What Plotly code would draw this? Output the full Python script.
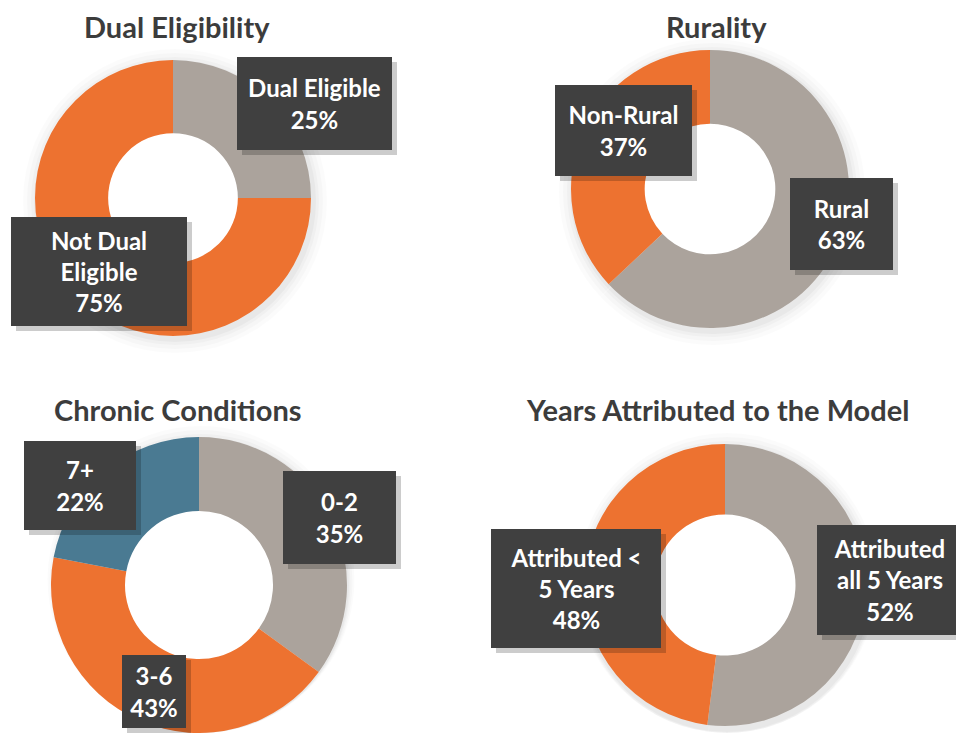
import plotly.graph_objects as go

# The page body has an 8px margin, so the figure is drawn 8px in from the window corner.
OFF = 8
W, H = 964 - OFF, 733 - OFF

ORANGE = "#ED7230"
GRAY = "#ABA39C"
BLUE = "#4A7A92"
BOX = "#404040"

# Data
dual_labels = ["Dual Eligible", "Not Dual Eligible"]
dual_values = [25, 75]
rural_labels = ["Rural", "Non-Rural"]
rural_values = [63, 37]
chronic_labels = ["0-2", "3-6", "7+"]
chronic_values = [35, 43, 22]
years_labels = ["Attributed all 5 Years", "Attributed < 5 Years"]
years_values = [52, 48]

titles = ["Dual Eligibility", "Rurality", "Chronic Conditions", "Years Attributed to the Model"]

fig = go.Figure()

def px(x):
    return (x - OFF) / W

def py(y):
    return 1 - (y - OFF) / H

def dom(cx, cy, r):
    x0, x1 = px(cx - r), px(cx + r)
    y0, y1 = py(cy + r), py(cy - r)
    return dict(x=[max(0, x0), min(1, x1)], y=[max(0, y0), min(1, y1)])

def add_pie(labels, values, colors, cx, cy, r, hole=0.48):
    # soft shadow rings
    for k, a in [(14, 0.015), (10, 0.02), (6, 0.025), (3, 0.03)]:
        rs = r + k
        fig.add_trace(go.Pie(labels=labels, values=values, sort=False, direction="clockwise",
                             hole=(r * hole + 12) / rs, textinfo="none", hoverinfo="skip", showlegend=False,
                             marker=dict(colors=[f"rgba(0,0,0,{a})"] * len(values), line=dict(width=0)),
                             domain=dom(cx + 2, cy + 3, rs)))
    fig.add_trace(go.Pie(labels=labels, values=values, sort=False, direction="clockwise",
                         hole=hole, textinfo="none", showlegend=False,
                         marker=dict(colors=colors, line=dict(width=0)),
                         domain=dom(cx, cy, r)))

add_pie(dual_labels, dual_values, [GRAY, ORANGE], 173, 198, 138, 0.47)
add_pie(rural_labels, rural_values, [GRAY, ORANGE], 710, 189, 139, 0.47)
add_pie(chronic_labels, chronic_values, [GRAY, ORANGE, BLUE], 199, 587, 150, 0.5)
add_pie(years_labels, years_values, [GRAY, ORANGE], 725, 585, 141, 0.5)

FONT = "Lato"

def title(text, cx, cy, anchor="middle"):
    fig.add_annotation(text=f"<b>{text}</b>", x=px(cx), y=py(cy), xref="paper", yref="paper",
                       showarrow=False, xanchor="center", yanchor=anchor, borderpad=0,
                       font=dict(family=FONT, size=29, color="#3C3C3C"))

title(titles[0], 177, 8, "top")
title(titles[1], 716, 8, "top")
title(titles[2], 177, 409)
title(titles[3], 717, 409)

def label(text, x0, y0, x1, y1):
    cx, cy = (x0 + x1) / 2, (y0 + y1) / 2
    w, h = x1 - x0, y1 - y0
    # drop shadow behind the box
    fig.add_annotation(text=" ", x=px(cx + 5), y=py(cy + 5), xref="paper", yref="paper",
                       showarrow=False, xanchor="center", yanchor="middle", width=w, height=h,
                       bgcolor="rgba(0,0,0,0.2)", borderpad=0, borderwidth=0,
                       font=dict(family=FONT, size=10, color="rgba(0,0,0,0)"))
    fig.add_annotation(text=f"<b>{text}</b>", x=px(cx), y=py(cy), xref="paper", yref="paper",
                       showarrow=False, xanchor="center", yanchor="middle", width=w, height=h,
                       bgcolor=BOX, borderpad=0, borderwidth=0,
                       font=dict(family=FONT, size=24, color="white"))

label("Dual Eligible<br>25%", 237, 57, 392, 150)
label("Not Dual<br>Eligible<br>75%", 11, 217, 187, 326)
label("Non-Rural<br>37%", 555, 85, 692, 176)
label("Rural<br>63%", 790, 178, 893, 270)
label("7+<br>22%", 24, 441, 136, 530)
label("0-2<br>35%", 283, 471, 396, 564)
label("3-6<br>43%", 122, 655, 186, 728)
label("Attributed <<br>5 Years<br>48%", 491, 529, 661, 648)
label("Attributed<br>all 5 Years<br>52%", 817, 525, 962, 635)

fig.update_layout(width=W, height=H, margin=dict(l=0, r=0, t=0, b=0),
                  paper_bgcolor="white", plot_bgcolor="white")

fig.write_html("out.html")
